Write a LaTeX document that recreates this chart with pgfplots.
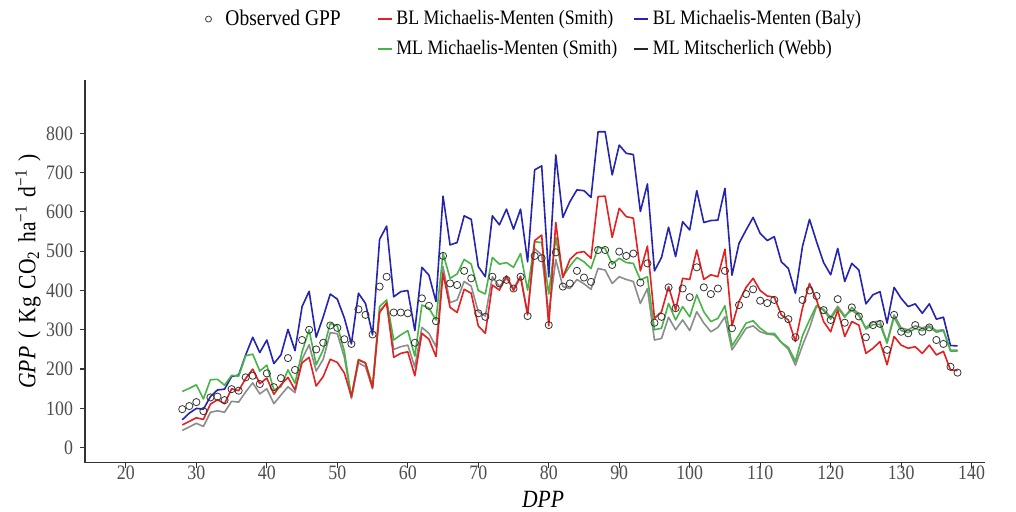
\documentclass[border=0pt]{standalone}
\usepackage{fontspec}
\setmainfont{Liberation Serif}[FakeStretch=0.87]
\usepackage{pgfplots}
\pgfplotsset{compat=1.18}
\usepackage{pgfplotstable}
\definecolor{cRed}{RGB}{228,32,32}
\definecolor{cBlue}{RGB}{36,36,176}
\definecolor{cGreen}{RGB}{70,180,70}
\definecolor{cGray}{RGB}{140,140,140}
\definecolor{axcol}{RGB}{51,51,51}
\definecolor{tickcol}{RGB}{77,77,77}

\pgfplotstableread{
d obs red blue green gray
28 98 58 71 143 44
29 106 67 88 151 53
30 116 76 100 160 62
31 93 72 98 124 54
32 128 111 130 173 90
33 130 122 147 174 94
34 121 112 149 159 90
35 149 150 181 184 118
36 145 145 185 182 116
37 179 176 236 234 142
38 183 200 281 238 165
39 162 163 242 195 137
40 189 177 274 210 150
41 154 136 214 147 112
42 177 160 236 155 134
43 228 179 301 198 155
44 198 147 247 164 140
45 274 216 359 244 225
46 300 230 398 300 262
47 250 157 281 211 195
48 267 181 333 249 225
49 311 225 391 316 293
50 305 217 378 310 290
51 276 190 330 245 230
52 264 130 264 128 125
53 352 223 393 225 216
54 338 216 367 215 206
55 288 152 287 158 150
56 410 344 530 359 349
57 435 369 564 376 366
58 344 230 384 274 250
59 344 240 397 287 257
60 342 244 400 298 261
61 267 183 298 233 205
62 380 291 459 363 306
63 361 276 439 355 291
64 322 232 372 325 257
65 488 444 640 494 461
66 418 357 516 431 369
67 414 344 522 442 376
68 450 403 590 479 423
69 431 393 581 467 411
70 342 310 461 400 346
71 333 291 435 391 335
72 435 414 590 484 435
73 418 401 567 467 410
74 427 437 607 471 431
75 405 400 556 459 405
76 435 435 607 494 437
77 335 338 473 401 342
78 488 527 707 524 507
79 482 541 717 522 490
80 312 310 435 391 340
81 497 573 745 535 479
82 410 433 586 435 410
83 418 479 626 462 405
84 450 496 656 484 428
85 433 499 654 473 417
86 422 482 637 456 403
87 503 639 804 510 456
88 503 640 804 507 452
89 465 535 694 467 418
90 499 609 770 482 435
91 488 588 749 471 428
92 494 584 746 469 423
93 420 450 601 427 367
94 469 513 671 435 405
95 318 329 450 300 274
96 333 346 484 304 278
97 408 410 561 367 332
98 355 350 486 325 300
99 405 431 575 359 325
100 383 428 554 333 298
101 459 503 654 389 346
102 408 428 573 346 317
103 391 440 578 321 295
104 405 435 579 329 306
105 450 505 660 361 333
106 304 310 439 259 249
107 363 372 520 287 276
108 391 408 554 317 304
109 403 431 586 323 310
110 374 400 545 304 295
111 368 386 527 291 289
112 376 383 537 291 287
113 338 338 473 268 268
114 327 325 456 255 250
115 281 270 393 220 210
116 376 355 512 285 260
117 400 418 581 325 305
118 386 376 524 362 360
119 350 321 471 349 352
120 325 295 440 327 332
121 378 350 507 356 360
122 318 283 423 332 335
123 357 321 469 357 350
124 334 312 452 340 336
125 281 240 366 302 305
126 312 253 389 313 320
127 315 270 397 314 322
128 249 211 317 266 268
129 338 283 408 332 338
130 295 261 380 298 305
131 291 253 359 293 300
132 312 257 366 303 310
133 295 240 342 298 305
134 306 261 366 307 310
135 274 236 327 294 298
136 264 245 332 298 300
137 206 198 260 246 248
138 191 196 259 246 248
}\data

\begin{document}
\begin{tikzpicture}
\useasboundingbox (-42.5pt,-24.15pt) rectangle (465.5pt,231.35pt);
\begin{axis}[
  at={(0pt,0pt)}, anchor=south west,
  scale only axis, width=450pt, height=191.35pt,
  xmin=14.2, xmax=141.9, ymin=-38.2, ymax=935.6,
  axis x line*=bottom, axis y line*=left,
  axis line style={axcol, line width=0.7pt, -},
  xtick={20,30,...,140}, ytick={0,100,...,800},
  tick align=outside, major tick length=2.5pt,
  tick style={axcol, line width=0.6pt},
  /pgf/number format/assume math mode=true,
  ticklabel style={font=\fontsize{10.25}{12}\selectfont, text=tickcol},
  xticklabel style={yshift=4.5pt},
  xlabel={\textit{DPP}},
  xlabel style={at={(axis description cs:0.509,-0.095)}, anchor=center, font=\fontsize{12.4}{14}\selectfont},
  ylabel={\textit{GPP}\hspace{4pt}(\hspace{4pt}Kg\hspace{4pt}CO\textsubscript{2}\hspace{4pt}ha\textsuperscript{−1}\hspace{4pt}d\textsuperscript{−1}\hspace{4pt})},
  ylabel style={at={(axis description cs:-0.0633,0.5)}, anchor=center, font=\fontsize{12.4}{14}\selectfont},
  legend columns=3,
  legend cell align=left,
  legend style={draw=none, fill=none, at={(0.500,1)}, anchor=south, yshift=7pt,
    font=\fontsize{10.25}{12}\selectfont, row sep=2pt,
    /tikz/column 2/.style={column sep=16pt},
    /tikz/column 4/.style={column sep=6pt}},
  line join=round,
]
\addlegendimage{legend image code/.code={\path[draw=none,fill=none] (0pt,0pt) rectangle (8pt,0.1pt); \draw[black!75, fill=none, line width=0.4pt] (1.5pt,0pt) circle (1.5pt);}}
\addlegendentry{\fontsize{11.2}{12}\selectfont Observed GPP}
\addlegendimage{legend image code/.code={\draw[cRed, line width=0.8pt] (0pt,0pt) -- (7pt,0pt);}}
\addlegendentry{BL Michaelis-Menten (Smith)}
\addlegendimage{legend image code/.code={\draw[cBlue, line width=0.8pt] (0pt,0pt) -- (7pt,0pt);}}
\addlegendentry{BL Michaelis-Menten (Baly)}
\addlegendimage{legend image code/.code={\path[draw=none,fill=none] (0pt,0pt) rectangle (8pt,0.1pt);}}
\addlegendentry{}
\addlegendimage{legend image code/.code={\draw[cGreen, line width=0.8pt] (0pt,0pt) -- (7pt,0pt);}}
\addlegendentry{ML Michaelis-Menten (Smith)}
\addlegendimage{legend image code/.code={\draw[black!85, line width=0.8pt] (0pt,0pt) -- (7pt,0pt);}}
\addlegendentry{ML Mitscherlich (Webb)}

\addplot[only marks, mark=o, mark size=1.8pt, mark options={black!80, line width=0.4pt}, forget plot] table[x=d,y=obs]{\data};
\addplot[cBlue, line width=0.8pt, forget plot] table[x=d,y=blue]{\data};
\addplot[cGray, line width=0.8pt, forget plot] table[x=d,y=gray]{\data};
\addplot[cGreen, line width=0.8pt, forget plot] table[x=d,y=green]{\data};
\addplot[cRed, line width=0.8pt, forget plot] table[x=d,y=red]{\data};
\end{axis}
\end{tikzpicture}
\end{document}
